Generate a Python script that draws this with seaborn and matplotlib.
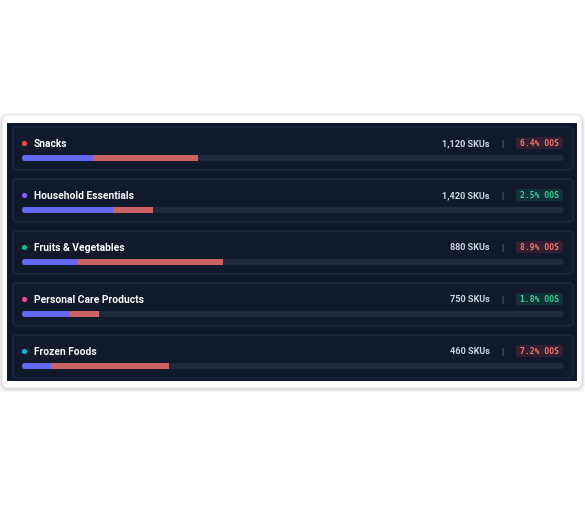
"""
Category stock overview: SKU count and out-of-stock rate per category,
drawn as thin stacked progress bars on a dark card.
"""

import pandas as pd
import matplotlib.pyplot as plt
from matplotlib.patches import FancyBboxPatch, Circle
import seaborn as sns

# Data
categories = ['Snacks', 'Household Essentials', 'Fruits & Vegetables',
              'Personal Care Products', 'Frozen Foods']
sku_counts = [1120, 1420, 880, 750, 460]
oos_rates = [6.4, 2.5, 8.9, 1.8, 7.2]
dot_colors = ['#ef4444', '#8b5cf6', '#10b981', '#ec4899', '#06b6d4']

# bar scales (share of the track)
SKU_SCALE = 8500      # SKUs for a full track
OOS_SCALE = 33.3      # OOS % for a full track
OOS_ALERT = 5.0       # above this the badge turns red

df = pd.DataFrame({'category': categories, 'skus': sku_counts, 'oos': oos_rates})
df['sku_share'] = df['skus'] / SKU_SCALE
df['bar_end'] = df['sku_share'] + df['oos'] / OOS_SCALE
df['track'] = 1.0

sns.set_style("white")
plt.rcParams['font.family'] = ['Roboto', 'DejaVu Sans']

W, H = 585, 505
fig = plt.figure(figsize=(W / 100, H / 100), dpi=100)
fig.patch.set_facecolor('white')

# background axes in pixel units
bg = fig.add_axes([0, 0, 1, 1])
bg.set_xlim(0, W)
bg.set_ylim(H, 0)
bg.axis('off')

# soft shadow + white card
for k, a in [(6, 0.03), (4, 0.05), (2, 0.07)]:
    bg.add_patch(FancyBboxPatch((2 - k / 2, 115 - k / 2 + 1), 580 + k, 273 + k,
                                boxstyle="round,pad=0,rounding_size=8",
                                fc='black', ec='none', alpha=a))
bg.add_patch(FancyBboxPatch((2, 115), 580, 273, boxstyle="round,pad=0,rounding_size=6",
                            fc='white', ec='#e5e7eb', lw=0.8))
bg.add_patch(plt.Rectangle((7, 123), 570, 258, fc='#0f172a', ec='none'))

ROW_TOP, ROW_STEP = 127, 52
BAR_X0, BAR_W, BAR_PX = 22, 542, 6
for i, row in df.iterrows():
    top = ROW_TOP + ROW_STEP * i
    mid = top + 17
    bg.add_patch(FancyBboxPatch((13, top), 560, 43, boxstyle="round,pad=0,rounding_size=4",
                                fc='#111a2d', ec='#1f2a3d', lw=1))
    bg.add_patch(Circle((24.5, mid - 0.5), 2.6, fc=dot_colors[i], ec='none'))
    bg.text(34, mid, row['category'], color='#f8fafc', fontsize=7.4,
            fontweight='bold', va='center', ha='left')
    bg.text(490, mid, f"{row['skus']:,} SKUs", color='#cbd5e1', fontsize=6.6,
            fontweight='bold', va='center', ha='right')
    bg.text(502, mid, '|', color='#64748b', fontsize=6.5, va='center', ha='center')
    alert = row['oos'] > OOS_ALERT
    badge_fc = '#ef4444' if alert else '#10b981'
    badge_tc = '#f87171' if alert else '#34d399'
    bg.add_patch(FancyBboxPatch((516, top + 10), 47, 12, boxstyle="round,pad=0,rounding_size=2",
                                fc=badge_fc, ec='none', alpha=0.15))
    bg.text(539.5, top + 16.5, f"{row['oos']:.1f}% OOS", color=badge_tc, fontsize=5.8,
            family='DejaVu Sans Mono', fontweight='bold', va='center', ha='center')

# bar axes: one category per row, 52 px per row
ax = fig.add_axes([BAR_X0 / W, (H - 392) / H, BAR_W / W, 260 / H])
ax.patch.set_alpha(0)
bar_kw = dict(orient='h', saturation=1, width=BAR_PX / ROW_STEP, linewidth=0,
              edgecolor='none', ax=ax)
sns.barplot(data=df, x='track', y='category', color='#1e293b', **bar_kw)
sns.barplot(data=df, x='bar_end', y='category', color='#f87171', **bar_kw)
sns.barplot(data=df, x='sku_share', y='category', color='#6366f1', **bar_kw)
ax.set_xlim(0, 1)
ax.set_ylim(len(df) - 0.5, -0.5)
ax.axis('off')

# red segment is slightly translucent on the dark card
n = len(df)
for p in ax.patches[n:2 * n]:
    p.set_alpha(0.8)

# round the bar ends by clipping each bar to a rounded track (pixel space)
for j, p in enumerate(ax.patches[:3 * n]):
    i = j % n
    y0 = ROW_TOP + ROW_STEP * i + 31 - BAR_PX / 2
    clip = FancyBboxPatch((BAR_X0, y0), BAR_W, BAR_PX,
                          boxstyle=f"round,pad=0,rounding_size={BAR_PX / 2}",
                          transform=bg.transData)
    p.set_clip_path(clip)

fig.savefig('out.png', dpi=100, facecolor='white')
plt.close()
